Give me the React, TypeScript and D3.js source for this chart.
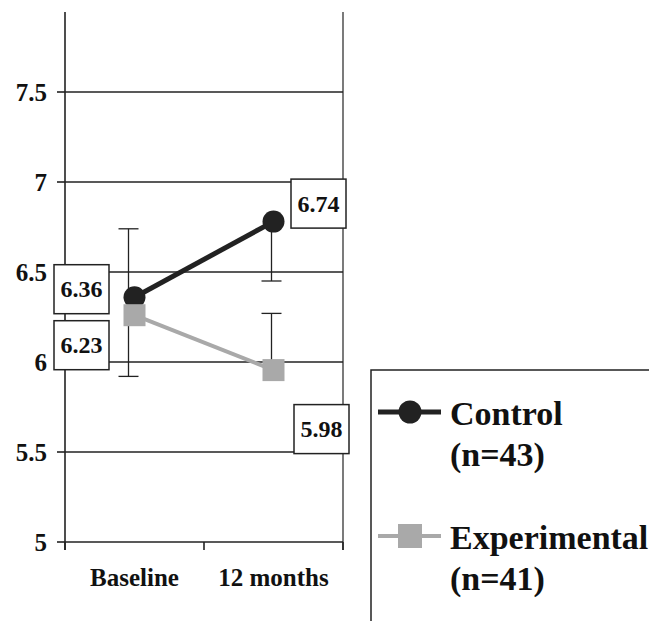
import React from "react";
import * as d3 from "d3";

const categories = ["Baseline", "12 months"];
const yTicks = [5, 5.5, 6, 6.5, 7, 7.5];
const controlValues = [6.36, 6.78];
const experimentalValues = [6.26, 5.955];
const controlLabels = ["6.36", "6.74"];
const experimentalLabels = ["6.23", "5.98"];
// error bars: [category index, from value, to value]
const errorBars: [number, number, number][] = [
  [0, 6.36, 6.74],
  [0, 6.26, 5.92],
  [1, 6.78, 6.45],
  [1, 5.955, 6.27],
];
const legendNames = ["Control", "Experimental"];
const legendNs = ["(n=43)", "(n=41)"];

// label box offsets (layout)
const controlLabelOffsets = [
  [-53, -8],
  [45, -18],
];
const experimentalLabelOffsets = [
  [-53, 30],
  [48, 59],
];

const W = 649;
const H = 621;
const FONT = "'Liberation Serif', 'Times New Roman', serif";
const DARK = "#222";
const GRAY = "#a9a9a9";

export default function App() {
  const x = d3.scaleBand<string>().domain(categories).range([65, 343]).padding(0);
  const y = d3.scaleLinear().domain([5, 8]).range([542, 2]);
  const cx = (i: number) => (x(categories[i]) as number) + x.bandwidth() / 2;
  const line = d3
    .line<number>()
    .x((_, i) => cx(i))
    .y((d) => y(d));
  const plotTop = 12;
  const plotRight = 343;
  const plotLeft = 65;
  const xTickPositions = [plotLeft, ...categories.map((_, i) => cx(i) + x.bandwidth() / 2)];
  const boxW = 55;
  const boxH = 49;
  const cap = 10;

  const labelBox = (val: number, i: number, text: string, off: number[], key: string) => {
    const bx = cx(i) + off[0];
    const by = y(val) + off[1];
    return (
      <g key={key}>
        <rect
          x={bx - boxW / 2}
          y={by - boxH / 2}
          width={boxW}
          height={boxH}
          fill="white"
          stroke={DARK}
          strokeWidth={1.5}
        />
        <text
          x={bx}
          y={by}
          textAnchor="middle"
          dominantBaseline="central"
          fontFamily={FONT}
          fontWeight="bold"
          fontSize={24}
          fill="#111"
        >
          {text}
        </text>
      </g>
    );
  };

  return (
    <svg width={W} height={H} style={{ position: "absolute", left: 0, top: 0 }}>
      <rect width={W} height={H} fill="white" />
      {/* gridlines */}
      {yTicks.slice(1).map((t) => (
        <line key={"g" + t} x1={plotLeft} x2={plotRight} y1={y(t)} y2={y(t)} stroke={DARK} strokeWidth={1.6} />
      ))}
      {/* y axis */}
      <line x1={plotLeft} x2={plotLeft} y1={plotTop} y2={y(5) + 8} stroke={DARK} strokeWidth={1.6} />
      <line x1={plotRight} x2={plotRight} y1={plotTop} y2={y(5) + 8} stroke={DARK} strokeWidth={1.2} />
      {yTicks.map((t) => (
        <g key={"t" + t}>
          <line x1={plotLeft - 8} x2={plotLeft} y1={y(t)} y2={y(t)} stroke={DARK} strokeWidth={1.6} />
          <text
            x={47}
            y={y(t)}
            textAnchor="end"
            dominantBaseline="central"
            fontFamily={FONT}
            fontWeight="bold"
            fontSize={25}
            fill="#111"
          >
            {String(t)}
          </text>
        </g>
      ))}
      {/* x axis */}
      <line x1={plotLeft} x2={plotRight} y1={y(5)} y2={y(5)} stroke={DARK} strokeWidth={1.6} />
      {xTickPositions.map((p, i) => (
        <line key={"xt" + i} x1={p} x2={p} y1={y(5)} y2={y(5) + 8} stroke={DARK} strokeWidth={1.6} />
      ))}
      {categories.map((c, i) => (
        <text
          key={c}
          x={cx(i)}
          y={586}
          textAnchor="middle"
          fontFamily={FONT}
          fontWeight="bold"
          fontSize={25}
          fill="#111"
        >
          {c}
        </text>
      ))}
      {/* error bars */}
      {errorBars.map(([ci, from, to], k) => {
        const px = cx(ci) - (ci === 0 ? 6 : 2);
        return (
          <g key={"e" + k}>
            <line x1={px} x2={px} y1={y(from)} y2={y(to)} stroke={DARK} strokeWidth={1.3} />
            <line x1={px - cap} x2={px + cap} y1={y(to)} y2={y(to)} stroke={DARK} strokeWidth={1.3} />
          </g>
        );
      })}
      {/* series */}
      <path d={line(experimentalValues) || ""} fill="none" stroke={GRAY} strokeWidth={4} />
      <path d={line(controlValues) || ""} fill="none" stroke={DARK} strokeWidth={5} />
      {controlValues.map((v, i) => (
        <circle key={"c" + i} cx={cx(i)} cy={y(v)} r={11} fill={DARK} />
      ))}
      {experimentalValues.map((v, i) => (
        <rect key={"s" + i} x={cx(i) - 11} y={y(v) - 11} width={22} height={22} fill={GRAY} />
      ))}
      {/* labels */}
      {controlValues.map((v, i) => labelBox(v, i, controlLabels[i], controlLabelOffsets[i], "cl" + i))}
      {experimentalValues.map((v, i) =>
        labelBox(v, i, experimentalLabels[i], experimentalLabelOffsets[i], "el" + i)
      )}
      {/* legend */}
      <rect x={371} y={370} width={320} height={300} fill="white" stroke={DARK} strokeWidth={1.5} />
      {legendNames.map((name, i) => {
        const ly = i === 0 ? 412 : 536;
        return (
          <g key={name}>
            <line x1={378} x2={441} y1={ly} y2={ly} stroke={i === 0 ? DARK : GRAY} strokeWidth={i === 0 ? 5 : 4} />
            {i === 0 ? (
              <circle cx={410} cy={ly} r={11.5} fill={DARK} />
            ) : (
              <rect x={398} y={ly - 12} width={24} height={24} fill={GRAY} />
            )}
            <text x={450} y={ly + 13} fontFamily={FONT} fontWeight="bold" fontSize={34} fill="#111">
              {name}
            </text>
            <text x={450} y={ly + 13 + 41} fontFamily={FONT} fontWeight="bold" fontSize={34} fill="#111">
              {legendNs[i]}
            </text>
          </g>
        );
      })}
    </svg>
  );
}
